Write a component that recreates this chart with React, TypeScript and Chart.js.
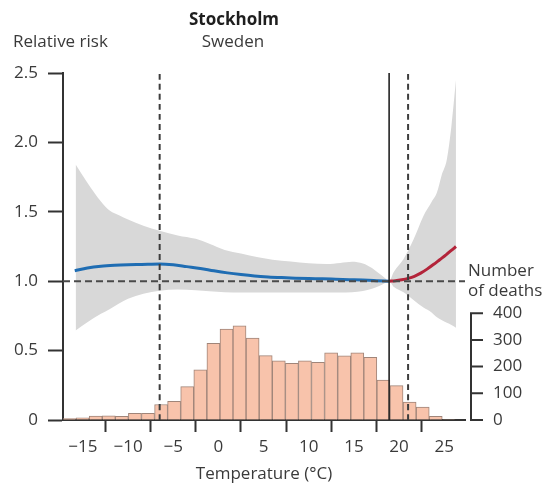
import React, { useEffect, useRef } from 'react';
import { Chart, registerables } from 'chart.js';

Chart.register(...registerables);

// ---------- DATA ----------
// Histogram of daily deaths by temperature bin (bin centres, °C)
const binCenters = [-16.48, -15.03, -13.58, -12.13, -10.69, -9.24, -7.79, -6.34, -4.9, -3.45, -2.0, -0.55, 0.9, 2.34, 3.79, 5.24, 6.69, 8.14, 9.58, 11.03, 12.48, 13.93, 15.38, 16.82, 18.27, 19.72, 21.17, 22.62, 24.06, 25.51];
const deathCounts = [5, 8, 15, 16, 14, 25, 25, 58, 70, 125, 188, 287, 341, 353, 307, 241, 222, 212, 222, 216, 252, 240, 252, 235, 150, 129, 67, 48, 14, 2];

// Relative risk curve — cold side (blue) and heat side (red)
const coldTemps = [-15.9, -14.5, -13, -11.5, -10, -8.5, -6.5, -5, -3.5, -2, -0.5, 1, 2.5, 4, 5.5, 7, 8.5, 10, 11.5, 13, 14.5, 16, 17.5, 18.9];
const coldRR = [1.075, 1.095, 1.108, 1.115, 1.119, 1.121, 1.124, 1.118, 1.105, 1.092, 1.075, 1.06, 1.048, 1.038, 1.031, 1.026, 1.022, 1.019, 1.017, 1.014, 1.011, 1.008, 1.004, 1.0];
const heatTemps = [18.9, 19.6, 20.3, 21, 21.7, 22.4, 23.1, 23.8, 24.5, 25.2, 25.9, 26.3];
const heatRR = [1.0, 1.003, 1.01, 1.02, 1.035, 1.058, 1.087, 1.12, 1.155, 1.19, 1.228, 1.25];

// 95% confidence band
const bandTemps = [-15.8, -14.5, -13, -12, -11, -10, -8.3, -6.5, -4.5, -2.5, -1, 0.7, 2.5, 4.4, 6, 8, 10, 12, 13.5, 14.8, 16, 17, 17.8, 18.4, 18.9, 19.4, 20.5, 21.6, 22.7, 23.6, 24.2, 24.7, 25.3, 25.8, 26.3];
const bandUpper = [1.84, 1.71, 1.575, 1.508, 1.475, 1.445, 1.4, 1.364, 1.33, 1.305, 1.27, 1.225, 1.2, 1.172, 1.155, 1.142, 1.13, 1.124, 1.132, 1.14, 1.128, 1.095, 1.055, 1.025, 1.0, 1.065, 1.16, 1.3, 1.47, 1.57, 1.64, 1.76, 1.88, 2.12, 2.45];
const bandLower = [0.645, 0.705, 0.765, 0.8, 0.84, 0.873, 0.91, 0.932, 0.94, 0.935, 0.928, 0.921, 0.919, 0.918, 0.918, 0.918, 0.918, 0.918, 0.919, 0.921, 0.93, 0.945, 0.965, 0.985, 1.0, 0.96, 0.92, 0.865, 0.81, 0.775, 0.74, 0.72, 0.7, 0.685, 0.665];

// Reference temperatures
const coldThreshold = -6.5;
const minimumMortalityTemp = 18.9;
const heatThreshold = 21;
const referenceRR = 1.0;

// Axes
const xRange = [-17.2, 27.3];
const xTickValues = [-15, -10, -5, 0, 5, 10, 15, 20, 25];
const xTickLabels = ['\u221215', '\u221210', '\u22125', '0', '5', '10', '15', '20', '25'];
const rrRange = [0, 2.5];
const rrTickValues = [0, 0.5, 1.0, 1.5, 2.0, 2.5];
const rrTickLabels = ['0', '0.5', '1.0', '1.5', '2.0', '2.5'];
const deathsRange = [0, 1300];
const deathTickValues = [0, 100, 200, 300, 400];
const deathTickLabels = ['0', '100', '200', '300', '400'];

const titleText = 'Stockholm';
const subtitleText = 'Sweden';
const yTitleText = 'Relative risk';
const y2TitleLines = ['Number', 'of deaths'];
const xTitleText = 'Temperature (\u00B0C)';

// ---------- STYLE ----------
const FONT = "'Open Sans', 'DejaVu Sans', sans-serif";
const FS = 17;
const TEXT = '#3a3a3a';
const AXIS = '#333333';

const pairs = (xs: number[], ys: number[]) => xs.map((x, i) => ({ x, y: ys[i] }));

const annotations = {
  id: 'annotations',
  afterDraw(chart: any) {
    const { ctx, chartArea, scales } = chart;
    const y2 = scales.y2;
    const ax = chartArea.right + 6;
    ctx.save();
    // right (deaths) axis line and tick marks
    ctx.strokeStyle = AXIS;
    ctx.lineWidth = 2;
    ctx.beginPath();
    ctx.moveTo(ax, y2.getPixelForValue(deathTickValues[0]) + 1);
    ctx.lineTo(ax, y2.getPixelForValue(deathTickValues[deathTickValues.length - 1]) - 1);
    for (const v of deathTickValues) {
      const py = y2.getPixelForValue(v);
      ctx.moveTo(ax - 1, py);
      ctx.lineTo(ax + 12, py);
    }
    ctx.stroke();

    ctx.textBaseline = 'alphabetic';
    ctx.fillStyle = '#1e1e1e';
    ctx.font = `bold ${FS}px ${FONT}`;
    ctx.textAlign = 'center';
    ctx.fillText(titleText, 234, 25);
    ctx.fillStyle = TEXT;
    ctx.font = `${FS}px ${FONT}`;
    ctx.fillText(subtitleText, 233, 46.5);
    ctx.textAlign = 'left';
    ctx.fillText(yTitleText, 13, 46.5);
    ctx.fillText(y2TitleLines[0], 468, 276);
    ctx.fillText(y2TitleLines[1], 468, 296);
    ctx.restore();
  },
};

export default function App() {
  const ref = useRef<HTMLCanvasElement>(null);

  useEffect(() => {
    const canvas = ref.current;
    if (!canvas) return;
    const lineBase = { type: 'line' as const, pointRadius: 0, fill: false, cubicInterpolationMode: 'monotone' as const };
    const chart = new Chart(canvas, {
      type: 'line',
      data: {
        datasets: [
          { ...lineBase, label: 'cold', data: [{ x: coldThreshold, y: rrRange[0] }, { x: coldThreshold, y: rrRange[1] }], borderColor: '#3d3d3d', borderWidth: 2, borderDash: [6, 4], order: 0 },
          { ...lineBase, label: 'mmt', data: [{ x: minimumMortalityTemp, y: rrRange[0] }, { x: minimumMortalityTemp, y: rrRange[1] }], borderColor: '#222222', borderWidth: 1.6, order: 0 },
          { ...lineBase, label: 'heat', data: [{ x: heatThreshold, y: rrRange[0] }, { x: heatThreshold, y: rrRange[1] }], borderColor: '#3d3d3d', borderWidth: 2, borderDash: [6, 4], order: 0 },
          { ...lineBase, label: 'ref', data: [{ x: xRange[0], y: referenceRR }, { x: xRange[1], y: referenceRR }], borderColor: '#4a4a4a', borderWidth: 2, borderDash: [7, 4], order: 1 },
          { ...lineBase, label: 'coldRR', data: pairs(coldTemps, coldRR), borderColor: '#1f6db3', borderWidth: 3, order: 2 },
          { ...lineBase, label: 'heatRR', data: pairs(heatTemps, heatRR), borderColor: '#b3243a', borderWidth: 3, order: 2 },
          { ...lineBase, label: 'upper', data: pairs(bandTemps, bandUpper), borderWidth: 0, borderColor: 'rgba(0,0,0,0)', backgroundColor: '#d8d8d8', fill: '+1', order: 3 },
          { ...lineBase, label: 'lower', data: pairs(bandTemps, bandLower), borderWidth: 0, borderColor: 'rgba(0,0,0,0)', order: 4 },
          {
            type: 'bar', label: 'deaths', data: pairs(binCenters, deathCounts) as any, yAxisID: 'y2',
            backgroundColor: '#f8c3ab', borderColor: '#a08579', borderWidth: 1,
            barPercentage: 1, categoryPercentage: 1, grouped: false, order: 5,
          } as any,
        ],
      },
      options: {
        responsive: false,
        animation: false,
        events: [],
        layout: { padding: { top: 73, left: 0, right: 0, bottom: 0 } },
        plugins: { legend: { display: false }, tooltip: { enabled: false }, title: { display: false } },
        font: { family: FONT, size: FS },
        scales: {
          x: {
            type: 'linear', min: xRange[0], max: xRange[1], offset: false,
            afterBuildTicks: (s: any) => { s.ticks = xTickValues.map((v) => ({ value: v })); },
            afterFit: (s: any) => { s.height = 68; },
            ticks: { font: { family: FONT, size: FS }, color: TEXT, padding: 5, autoSkip: false, maxRotation: 0,
              callback: (_v: any, i: number) => xTickLabels[i] },
            grid: { drawOnChartArea: false, drawTicks: true, tickLength: 12, tickColor: AXIS, tickWidth: 2 },
            border: { display: true, color: AXIS, width: 2 },
            title: { display: true, text: xTitleText, color: TEXT, font: { family: FONT, size: FS }, padding: { top: 0, bottom: 4 } },
          },
          y: {
            type: 'linear', position: 'left', min: rrRange[0], max: rrRange[1],
            afterBuildTicks: (s: any) => { s.ticks = rrTickValues.map((v) => ({ value: v })); },
            afterFit: (s: any) => { s.width = 63; },
            ticks: { font: { family: FONT, size: FS }, color: TEXT, padding: 10, callback: (_v: any, i: number) => rrTickLabels[i] },
            grid: { drawOnChartArea: false, drawTicks: true, tickLength: 15, tickColor: AXIS, tickWidth: 2 },
            border: { display: true, color: AXIS, width: 2 },
          },
          y2: {
            type: 'linear', position: 'right', min: deathsRange[0], max: deathsRange[1],
            afterBuildTicks: (s: any) => { s.ticks = deathTickValues.map((v) => ({ value: v })); },
            afterFit: (s: any) => { s.width = 82; },
            ticks: { font: { family: FONT, size: FS }, color: TEXT, padding: 28, callback: (_v: any, i: number) => deathTickLabels[i] },
            grid: { display: true, drawOnChartArea: false, drawTicks: false },
            border: { display: false },
          },
        },
      } as any,
      plugins: [annotations],
    });
    return () => chart.destroy();
  }, []);

  return (
    <div style={{ position: 'fixed', left: 0, top: 0, width: 547, height: 488, background: '#ffffff' }}>
      <canvas ref={ref} width={547} height={488} style={{ display: 'block', width: 547, height: 488 }} />
    </div>
  );
}
